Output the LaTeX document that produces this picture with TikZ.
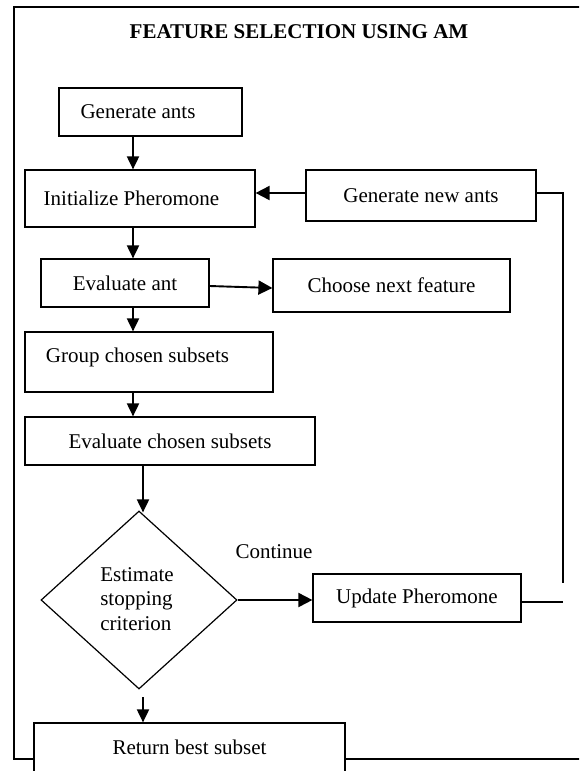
\documentclass[tikz,border=0pt]{standalone}
\usepackage{fontspec}
\setmainfont{Liberation Serif}
\usetikzlibrary{arrows.meta,shapes.geometric}
\begin{document}
\begin{tikzpicture}[x=1pt,y=-1pt,
  every node/.style={font=\fontsize{21}{24.5}\selectfont},
  box/.style={draw, line width=1.2pt, fill=white, inner sep=0pt},
  frameline/.style={line width=1.5pt},
  conn/.style={line width=1.3pt},
  arr/.style={line width=1.9pt, -{Triangle[length=13pt,width=12pt]}},
  harr/.style={line width=1.9pt, -{Triangle[length=14pt,width=14pt]}}
]
\useasboundingbox (0,0) rectangle (579,771);
\clip (0,0) rectangle (579,771);
% outer frame (right side lies outside the picture)
\draw[frameline] (14,7) rectangle (600,759);
% title
\node[font=\fontsize{21}{25}\selectfont\bfseries] (title) at (299,32) {FEATURE SELECTION USING AM};
% boxes
\node[box, minimum width=183pt, minimum height=48pt, label={[xshift=-12.5pt]center:Generate ants}] (gen) at (150.5,112) {};
\node[box, minimum width=230pt, minimum height=57pt, label={[xshift=-8.5pt]center:Initialize Pheromone}] (init) at (140,198.5) {};
\node[box, minimum width=230pt, minimum height=51pt] (newants) at (421,195.5) {Generate new ants};
\node[box, minimum width=168pt, minimum height=48pt] (evala) at (125,283) {Evaluate ant};
\node[box, minimum width=237pt, minimum height=53pt] (choose) at (391.5,285.5) {Choose next feature};
\node[box, minimum width=248pt, minimum height=60pt, label={[xshift=-11.5pt,yshift=5pt]center:Group chosen subsets}] (group) at (149,362) {};
\node[box, minimum width=290pt, minimum height=48pt] (evalc) at (170,441) {Evaluate chosen subsets};
\node[draw, diamond, line width=1.2pt, inner sep=0pt, minimum width=196pt, minimum height=178pt] (crit) at (139,600) {};
\node[align=left, inner sep=0pt] (crittext) at (137,599) {Estimate\\stopping\\criterion};
\node[box, minimum width=208pt, minimum height=48pt] (update) at (417,598) {Update Pheromone};
\node[box, minimum width=311pt, minimum height=49pt] (ret) at (189.5,747.5) {Return best subset};
\node (cont) at (274,552) {Continue};
% helper coordinates
\coordinate (c1) at (133,0);
\coordinate (c2) at (143,0);
\coordinate (rtop) at (563,193);
\coordinate (rbot) at (563,583);
\coordinate (rmid) at (563,602);
\coordinate (dgap) at (143,697);
% connectors
\draw[arr] (gen.south -| c1) -- (init.north -| c1);
\draw[arr] (init.south -| c1) -- (evala.north -| c1);
\draw[harr] ([yshift=-3pt]evala.east) -- ([yshift=-2.5pt]choose.west);
\draw[arr] (evala.south -| c1) -- (group.north -| c1);
\draw[arr] (group.south -| c1) -- (evalc.north -| c1);
\draw[arr] (evalc.south -| c2) -- ([yshift=-2pt]crit.north -| c2);
\draw[harr] (crit.east) -- (crit.east -| update.west);
\draw[harr] ([yshift=2.5pt]newants.west) -- ([yshift=2.5pt]newants.west -| init.east);
\draw[conn] ([yshift=2.5pt]newants.east) -- (rtop) -- (rbot);
\draw[conn] ([yshift=-4pt]update.east) -- (rmid);
\draw[arr] (dgap) -- (dgap |- ret.north);
\end{tikzpicture}
\end{document}
